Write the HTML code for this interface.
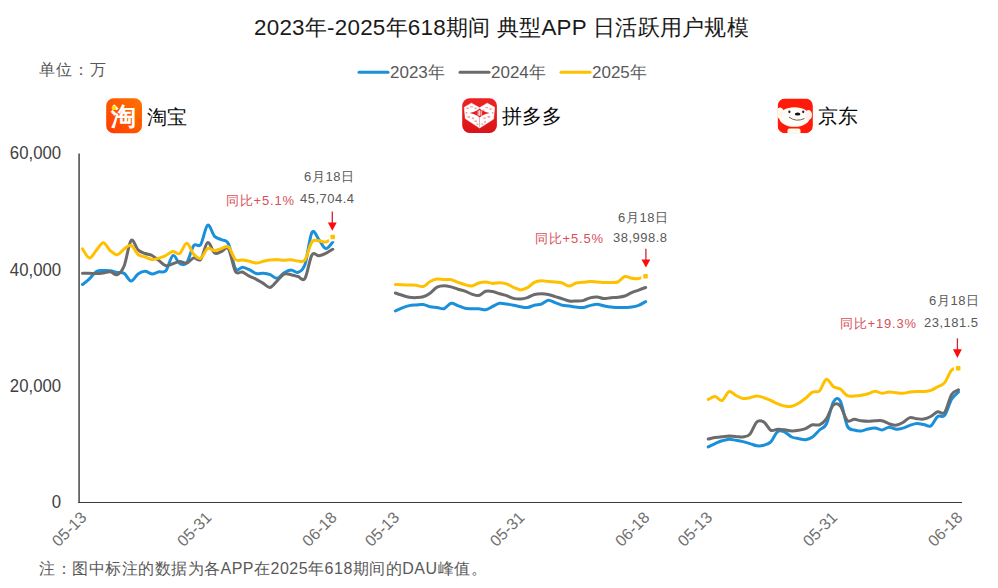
<!DOCTYPE html>
<html><head><meta charset="utf-8">
<style>
html,body{margin:0;padding:0;background:#fff;}
body{width:998px;height:588px;overflow:hidden;position:relative;font-family:"Liberation Sans",sans-serif;}
.t{position:absolute;white-space:nowrap;line-height:1;}
svg{position:absolute;left:0;top:0;}
.ylab{right:936.5px;font-size:18px;color:#404040;transform:scaleX(0.93);transform-origin:100% 50%;}
</style></head><body>
<div class="t" style="left:254px;top:17px;font-size:22.4px;letter-spacing:0.25px;color:#1a1a1a;">2023年-2025年618期间 典型APP 日活跃用户规模</div>
<div class="t" style="left:39px;top:62px;font-size:16px;letter-spacing:1px;color:#595959;">单位：万</div>
<div class="t" style="left:390px;top:63.5px;font-size:17px;color:#595959;">2023年</div>
<div class="t" style="left:491px;top:63.5px;font-size:17px;color:#595959;">2024年</div>
<div class="t" style="left:592px;top:63.5px;font-size:17px;color:#595959;">2025年</div>
<div class="t" style="left:147px;top:106.5px;font-size:20px;color:#0a0a0a;">淘宝</div>
<div class="t" style="left:502px;top:105.5px;font-size:20px;color:#0a0a0a;">拼多多</div>
<div class="t" style="left:817.5px;top:105.5px;font-size:20px;color:#0a0a0a;">京东</div>
<div class="t ylab" style="top:144px;">60,000</div>
<div class="t ylab" style="top:261px;">40,000</div>
<div class="t ylab" style="top:377px;">20,000</div>
<div class="t ylab" style="top:493px;">0</div>
<div class="t" style="left:39px;top:561px;font-size:16px;letter-spacing:0.5px;color:#595959;">注：图中标注的数据为各APP在2025年618期间的DAU峰值。</div>
<!-- annotations -->
<div class="t" style="left:304px;top:170px;font-size:13px;letter-spacing:0.6px;color:#595959;">6月18日</div>
<div class="t" style="left:300px;top:192px;font-size:13px;color:#595959;letter-spacing:0.5px;">45,704.4</div>
<div class="t" style="left:226px;top:194px;font-size:13px;letter-spacing:0.8px;color:#d8505a;">同比+5.1%</div>
<div class="t" style="left:618px;top:211px;font-size:13px;letter-spacing:0.6px;color:#595959;">6月18日</div>
<div class="t" style="left:613px;top:231px;font-size:13px;color:#595959;letter-spacing:0.5px;">38,998.8</div>
<div class="t" style="left:535px;top:232px;font-size:13px;letter-spacing:0.8px;color:#d8505a;">同比+5.5%</div>
<div class="t" style="left:929px;top:294px;font-size:13px;letter-spacing:0.6px;color:#595959;">6月18日</div>
<div class="t" style="left:924px;top:316px;font-size:13px;color:#595959;letter-spacing:0.5px;">23,181.5</div>
<div class="t" style="left:840px;top:317px;font-size:13px;letter-spacing:0.8px;color:#d8505a;">同比+19.3%</div>
<svg width="998" height="588" viewBox="0 0 998 588">
<g stroke-linecap="round">
<line x1="359" y1="72.3" x2="388" y2="72.3" stroke="#1B90DA" stroke-width="3"/>
<line x1="460" y1="72.3" x2="489" y2="72.3" stroke="#6B6B6B" stroke-width="3"/>
<line x1="561" y1="72.3" x2="590" y2="72.3" stroke="#FFC000" stroke-width="3"/>
</g>
<line x1="79.1" y1="153.5" x2="79.1" y2="502.5" stroke="#646464" stroke-width="1.8"/>
<line x1="78.2" y1="502.5" x2="962" y2="502.5" stroke="#3a3a3a" stroke-width="1.2"/>
<g fill="none" stroke-width="3" stroke-linecap="round" stroke-linejoin="round">
<path d="M82.5 284.5 C83.6 283.6 87.1 281.1 89.4 278.9 C91.7 276.7 94.1 272.9 96.4 271.5 C98.7 270.1 101.0 270.6 103.3 270.5 C105.7 270.4 108.0 270.5 110.3 270.8 C112.6 271.1 114.9 272.1 117.2 272.5 C119.6 272.9 121.9 272.0 124.2 273.4 C126.5 274.8 128.8 280.9 131.1 281.0 C133.5 281.1 135.8 275.5 138.1 273.9 C140.4 272.3 142.7 271.3 145.1 271.3 C147.4 271.3 149.7 273.8 152.0 273.9 C154.3 274.0 156.6 272.3 159.0 271.8 C161.3 271.3 163.6 273.5 165.9 270.8 C168.2 268.1 170.5 256.7 172.9 255.5 C175.2 254.3 177.5 262.5 179.8 263.7 C182.1 264.9 184.5 265.6 186.8 262.6 C189.1 259.6 191.4 248.6 193.7 245.6 C196.0 242.6 198.4 248.0 200.7 244.6 C203.0 241.2 205.3 226.6 207.6 225.2 C209.9 223.8 212.3 234.0 214.6 236.4 C216.9 238.8 219.2 238.4 221.5 239.7 C223.8 241.0 226.2 239.2 228.5 244.0 C230.8 248.8 233.1 264.6 235.4 268.5 C237.8 272.4 240.1 267.1 242.4 267.3 C244.7 267.5 247.0 268.6 249.3 269.6 C251.7 270.6 254.0 272.9 256.3 273.5 C258.6 274.1 260.9 273.0 263.2 273.2 C265.6 273.4 267.9 273.8 270.2 274.7 C272.5 275.6 274.8 278.6 277.2 278.3 C279.5 278.0 281.8 274.1 284.1 272.7 C286.4 271.3 288.7 270.1 291.1 270.0 C293.4 269.9 295.7 273.3 298.0 272.4 C300.3 271.5 302.6 271.1 305.0 264.5 C307.3 257.9 309.6 236.7 311.9 232.5 C314.2 228.3 316.6 236.9 318.9 239.6 C321.2 242.3 323.5 248.2 325.8 248.6 C328.1 249.0 331.6 243.1 332.8 242.0" stroke="#1B90DA"/>
<path d="M82.5 273.3 C83.6 273.3 87.1 273.2 89.4 273.3 C91.7 273.4 94.1 273.7 96.4 273.6 C98.7 273.6 101.0 273.3 103.3 273.0 C105.7 272.7 108.0 271.4 110.3 271.7 C112.6 272.0 114.9 275.7 117.2 274.7 C119.6 273.7 121.9 271.4 124.2 265.7 C126.5 260.0 128.8 243.1 131.1 240.5 C133.5 237.9 135.8 247.7 138.1 249.9 C140.4 252.1 142.7 252.6 145.1 253.5 C147.4 254.4 149.7 254.3 152.0 255.5 C154.3 256.7 156.6 258.9 159.0 260.6 C161.3 262.3 163.6 265.2 165.9 265.7 C168.2 266.2 170.5 264.4 172.9 263.7 C175.2 263.0 177.5 261.7 179.8 261.6 C182.1 261.5 184.5 263.7 186.8 263.1 C189.1 262.5 191.4 258.5 193.7 257.9 C196.0 257.3 198.4 262.0 200.7 259.4 C203.0 256.8 205.3 243.6 207.6 242.5 C209.9 241.4 212.3 251.5 214.6 253.0 C216.9 254.5 219.2 252.2 221.5 251.5 C223.8 250.8 226.2 245.5 228.5 248.8 C230.8 252.1 233.1 267.5 235.4 271.4 C237.8 275.3 240.1 271.2 242.4 272.0 C244.7 272.8 247.0 275.0 249.3 276.2 C251.7 277.4 254.0 278.1 256.3 279.3 C258.6 280.5 260.9 282.0 263.2 283.4 C265.6 284.8 267.9 287.8 270.2 287.4 C272.5 287.0 274.8 283.0 277.2 280.8 C279.5 278.6 281.8 275.2 284.1 274.2 C286.4 273.2 288.7 274.3 291.1 274.7 C293.4 275.1 295.7 275.9 298.0 276.5 C300.3 277.1 302.6 281.9 305.0 278.3 C307.3 274.7 309.6 258.9 311.9 255.1 C314.2 251.3 316.6 256.0 318.9 255.7 C321.2 255.4 323.5 254.4 325.8 253.3 C328.1 252.2 331.6 249.9 332.8 249.2" stroke="#6B6B6B"/>
<path d="M82.5 248.8 C83.6 250.3 87.1 257.8 89.4 258.0 C91.7 258.2 94.1 252.9 96.4 250.3 C98.7 247.8 101.0 242.6 103.3 242.7 C105.7 242.8 108.0 248.8 110.3 250.8 C112.6 252.8 114.9 255.0 117.2 254.7 C119.6 254.4 121.9 250.5 124.2 248.9 C126.5 247.3 128.8 244.4 131.1 245.3 C133.5 246.2 135.8 252.6 138.1 254.5 C140.4 256.4 142.7 256.1 145.1 257.0 C147.4 257.9 149.7 259.4 152.0 259.6 C154.3 259.8 156.6 258.8 159.0 258.1 C161.3 257.4 163.6 256.6 165.9 255.5 C168.2 254.4 170.5 251.9 172.9 251.6 C175.2 251.3 177.5 254.9 179.8 253.5 C182.1 252.1 184.5 243.1 186.8 243.2 C189.1 243.3 191.4 251.8 193.7 254.3 C196.0 256.8 198.4 259.3 200.7 258.3 C203.0 257.3 205.3 249.8 207.6 248.5 C209.9 247.2 212.3 250.7 214.6 250.7 C216.9 250.7 219.2 249.1 221.5 248.5 C223.8 247.9 226.2 245.2 228.5 247.0 C230.8 248.8 233.1 257.3 235.4 259.5 C237.8 261.7 240.1 259.8 242.4 260.1 C244.7 260.4 247.0 260.8 249.3 261.3 C251.7 261.8 254.0 263.0 256.3 263.0 C258.6 263.0 260.9 261.9 263.2 261.4 C265.6 260.9 267.9 260.2 270.2 259.9 C272.5 259.6 274.8 259.6 277.2 259.6 C279.5 259.7 281.8 260.2 284.1 260.2 C286.4 260.2 288.7 259.5 291.1 259.7 C293.4 259.9 295.7 261.1 298.0 261.1 C300.3 261.1 302.6 263.0 305.0 259.8 C307.3 256.6 309.6 245.2 311.9 242.0 C314.2 238.8 316.6 240.8 318.9 240.8 C321.2 240.8 323.5 242.6 325.8 242.0 C328.1 241.4 331.6 237.8 332.8 237.0" stroke="#FFC000"/>
<path d="M395.4 311.0 C396.5 310.5 400.0 308.8 402.3 307.9 C404.6 307.0 406.9 306.1 409.3 305.6 C411.6 305.1 413.9 305.1 416.2 304.9 C418.5 304.7 420.8 304.2 423.2 304.5 C425.5 304.8 427.8 306.3 430.1 306.8 C432.4 307.3 434.7 307.2 437.1 307.5 C439.4 307.8 441.7 309.4 444.0 308.7 C446.3 308.0 448.7 303.8 451.0 303.3 C453.3 302.8 455.6 304.8 457.9 305.6 C460.2 306.4 462.6 307.8 464.9 308.3 C467.2 308.8 469.5 308.6 471.8 308.7 C474.1 308.8 476.5 308.5 478.8 308.7 C481.1 308.9 483.4 310.2 485.7 309.8 C488.1 309.4 490.4 307.5 492.7 306.4 C495.0 305.3 497.3 303.7 499.6 303.3 C502.0 302.9 504.3 303.8 506.6 304.1 C508.9 304.4 511.2 304.8 513.5 305.2 C515.9 305.6 518.2 306.4 520.5 306.8 C522.8 307.2 525.1 307.8 527.5 307.5 C529.8 307.2 532.1 305.8 534.4 305.2 C536.7 304.6 539.0 304.9 541.4 304.1 C543.7 303.3 546.0 300.5 548.3 300.3 C550.6 300.1 552.9 301.9 555.3 302.7 C557.6 303.5 559.9 304.6 562.2 305.2 C564.5 305.8 566.9 305.7 569.2 306.0 C571.5 306.3 573.8 306.9 576.1 307.1 C578.4 307.4 580.8 307.8 583.1 307.5 C585.4 307.2 587.7 306.1 590.0 305.6 C592.3 305.1 594.7 304.3 597.0 304.3 C599.3 304.3 601.6 305.3 603.9 305.8 C606.3 306.3 608.6 306.8 610.9 307.1 C613.2 307.4 615.5 307.4 617.8 307.5 C620.2 307.6 622.5 307.6 624.8 307.5 C627.1 307.4 629.4 307.5 631.7 307.1 C634.1 306.8 636.4 306.3 638.7 305.4 C641.0 304.5 644.5 302.2 645.6 301.6" stroke="#1B90DA"/>
<path d="M395.4 293.0 C396.5 293.4 400.0 294.6 402.3 295.3 C404.6 296.0 406.9 296.8 409.3 297.2 C411.6 297.6 413.9 297.7 416.2 297.6 C418.5 297.5 420.8 297.5 423.2 296.8 C425.5 296.1 427.8 294.8 430.1 293.2 C432.4 291.6 434.7 288.4 437.1 287.1 C439.4 285.9 441.7 285.7 444.0 285.7 C446.3 285.7 448.7 286.3 451.0 286.9 C453.3 287.5 455.6 288.5 457.9 289.2 C460.2 289.9 462.6 290.3 464.9 291.1 C467.2 291.9 469.5 293.4 471.8 294.1 C474.1 294.8 476.5 296.0 478.8 295.5 C481.1 295.0 483.4 292.0 485.7 291.3 C488.1 290.6 490.4 291.1 492.7 291.5 C495.0 291.9 497.3 293.1 499.6 293.8 C502.0 294.5 504.3 294.9 506.6 295.7 C508.9 296.5 511.2 297.8 513.5 298.4 C515.9 299.0 518.2 299.2 520.5 299.1 C522.8 299.0 525.1 298.4 527.5 297.6 C529.8 296.8 532.1 295.1 534.4 294.5 C536.7 293.9 539.0 293.8 541.4 293.8 C543.7 293.8 546.0 294.0 548.3 294.5 C550.6 295.0 552.9 295.9 555.3 296.6 C557.6 297.3 559.9 298.0 562.2 298.7 C564.5 299.4 566.9 300.6 569.2 301.0 C571.5 301.4 573.8 301.1 576.1 301.0 C578.4 300.9 580.8 301.1 583.1 300.6 C585.4 300.1 587.7 298.5 590.0 297.9 C592.3 297.3 594.7 296.9 597.0 297.0 C599.3 297.1 601.6 298.5 603.9 298.6 C606.3 298.7 608.6 297.9 610.9 297.7 C613.2 297.5 615.5 297.6 617.8 297.3 C620.2 297.0 622.5 296.8 624.8 296.0 C627.1 295.2 629.4 293.6 631.7 292.6 C634.1 291.6 636.4 291.0 638.7 290.1 C641.0 289.2 644.5 287.9 645.6 287.5" stroke="#6B6B6B"/>
<path d="M395.4 284.6 C396.5 284.6 400.0 284.7 402.3 284.8 C404.6 284.9 406.9 284.9 409.3 285.0 C411.6 285.1 413.9 285.1 416.2 285.3 C418.5 285.6 420.8 287.1 423.2 286.5 C425.5 285.9 427.8 282.8 430.1 281.5 C432.4 280.2 434.7 279.3 437.1 279.0 C439.4 278.7 441.7 279.5 444.0 279.6 C446.3 279.7 448.7 279.2 451.0 279.6 C453.3 280.1 455.6 281.5 457.9 282.3 C460.2 283.1 462.6 284.0 464.9 284.6 C467.2 285.2 469.5 286.2 471.8 285.9 C474.1 285.6 476.5 283.7 478.8 283.0 C481.1 282.3 483.4 281.8 485.7 281.9 C488.1 282.0 490.4 283.3 492.7 283.4 C495.0 283.5 497.3 282.6 499.6 282.7 C502.0 282.8 504.3 283.0 506.6 283.8 C508.9 284.6 511.2 286.3 513.5 287.3 C515.9 288.3 518.2 289.8 520.5 289.9 C522.8 289.9 525.1 288.9 527.5 287.6 C529.8 286.3 532.1 283.5 534.4 282.3 C536.7 281.1 539.0 280.8 541.4 280.7 C543.7 280.6 546.0 281.3 548.3 281.5 C550.6 281.7 552.9 281.9 555.3 282.1 C557.6 282.4 559.9 282.3 562.2 283.0 C564.5 283.7 566.9 286.1 569.2 286.1 C571.5 286.1 573.8 283.6 576.1 283.0 C578.4 282.4 580.8 282.6 583.1 282.3 C585.4 282.1 587.7 281.6 590.0 281.5 C592.3 281.4 594.7 281.8 597.0 281.9 C599.3 282.0 601.6 282.3 603.9 282.4 C606.3 282.5 608.6 282.5 610.9 282.4 C613.2 282.3 615.5 283.0 617.8 282.0 C620.2 281.0 622.5 277.1 624.8 276.5 C627.1 275.9 629.4 277.8 631.7 278.2 C634.1 278.6 636.4 278.9 638.7 278.6 C641.0 278.3 644.5 276.7 645.6 276.3" stroke="#FFC000"/>
<path d="M708.2 446.9 C709.4 446.3 712.9 444.6 715.2 443.6 C717.5 442.6 719.8 441.5 722.1 440.8 C724.4 440.1 726.8 439.3 729.1 439.2 C731.4 439.1 733.7 439.9 736.0 440.3 C738.4 440.7 740.7 441.1 743.0 441.6 C745.3 442.2 747.6 442.9 749.9 443.6 C752.3 444.3 754.6 445.5 756.9 445.8 C759.2 446.1 761.5 445.9 763.8 445.2 C766.2 444.5 768.5 444.2 770.8 441.9 C773.1 439.6 775.4 433.0 777.8 431.4 C780.1 429.8 782.4 431.1 784.7 432.0 C787.0 432.9 789.3 435.9 791.7 437.0 C794.0 438.1 796.3 438.2 798.6 438.6 C800.9 439.1 803.2 440.0 805.6 439.7 C807.9 439.4 810.2 438.6 812.5 437.0 C814.8 435.4 817.2 432.2 819.5 430.0 C821.8 427.8 824.1 428.7 826.4 424.0 C828.7 419.3 831.1 405.8 833.4 402.0 C835.7 398.2 838.0 397.0 840.3 401.0 C842.6 405.0 845.0 421.2 847.3 426.0 C849.6 430.8 851.9 429.2 854.2 430.0 C856.5 430.8 858.9 431.2 861.2 431.0 C863.5 430.8 865.8 429.5 868.1 429.0 C870.5 428.5 872.8 427.8 875.1 428.0 C877.4 428.2 879.7 430.1 882.0 430.0 C884.4 429.9 886.7 427.3 889.0 427.2 C891.3 427.1 893.6 429.0 895.9 429.2 C898.3 429.4 900.6 428.8 902.9 428.1 C905.2 427.5 907.5 426.1 909.9 425.3 C912.2 424.6 914.5 423.7 916.8 423.6 C919.1 423.5 921.4 424.1 923.8 424.5 C926.1 424.9 928.4 427.3 930.7 426.0 C933.0 424.7 935.3 418.3 937.7 416.5 C940.0 414.7 942.3 418.3 944.6 415.4 C946.9 412.5 949.3 403.2 951.6 399.3 C953.9 395.4 957.4 393.3 958.5 392.1" stroke="#1B90DA"/>
<path d="M708.2 439.0 C709.4 438.8 712.9 437.9 715.2 437.5 C717.5 437.1 719.8 436.9 722.1 436.7 C724.4 436.5 726.8 436.2 729.1 436.1 C731.4 436.1 733.7 436.2 736.0 436.4 C738.4 436.5 740.7 437.4 743.0 437.0 C745.3 436.6 747.6 436.7 749.9 434.2 C752.3 431.7 754.6 423.8 756.9 421.8 C759.2 419.8 761.5 420.6 763.8 422.0 C766.2 423.4 768.5 429.1 770.8 430.3 C773.1 431.5 775.4 429.3 777.8 429.2 C780.1 429.1 782.4 429.5 784.7 429.8 C787.0 430.1 789.3 430.8 791.7 430.9 C794.0 431.0 796.3 430.7 798.6 430.3 C800.9 429.9 803.2 429.6 805.6 428.7 C807.9 427.8 810.2 425.4 812.5 424.8 C814.8 424.2 817.2 425.8 819.5 424.8 C821.8 423.8 824.1 422.1 826.4 418.8 C828.7 415.5 831.1 407.1 833.4 405.0 C835.7 402.9 838.0 403.4 840.3 406.0 C842.6 408.6 845.0 418.4 847.3 420.6 C849.6 422.8 851.9 419.3 854.2 419.3 C856.5 419.3 858.9 420.5 861.2 420.8 C863.5 421.1 865.8 421.3 868.1 421.3 C870.5 421.3 872.8 420.9 875.1 420.8 C877.4 420.7 879.7 420.3 882.0 420.8 C884.4 421.3 886.7 422.9 889.0 423.7 C891.3 424.4 893.6 425.5 895.9 425.3 C898.3 425.1 900.6 423.8 902.9 422.5 C905.2 421.2 907.5 418.2 909.9 417.6 C912.2 417.0 914.5 418.5 916.8 418.7 C919.1 418.9 921.4 419.4 923.8 419.0 C926.1 418.6 928.4 417.7 930.7 416.5 C933.0 415.3 935.3 412.5 937.7 411.8 C940.0 411.1 942.3 415.3 944.6 412.4 C946.9 409.5 949.3 398.3 951.6 394.5 C953.9 390.7 957.4 390.6 958.5 389.8" stroke="#6B6B6B"/>
<path d="M708.2 399.4 C709.4 398.9 712.9 396.4 715.2 396.6 C717.5 396.8 719.8 401.3 722.1 400.5 C724.4 399.7 726.8 392.4 729.1 391.6 C731.4 390.8 733.7 394.4 736.0 395.5 C738.4 396.6 740.7 398.1 743.0 398.5 C745.3 398.9 747.6 398.1 749.9 397.7 C752.3 397.3 754.6 396.0 756.9 396.0 C759.2 396.0 761.5 396.9 763.8 397.7 C766.2 398.4 768.5 399.5 770.8 400.5 C773.1 401.5 775.4 402.9 777.8 403.8 C780.1 404.7 782.4 405.6 784.7 406.0 C787.0 406.4 789.3 406.8 791.7 406.3 C794.0 405.8 796.3 404.5 798.6 403.2 C800.9 401.9 803.2 400.1 805.6 398.3 C807.9 396.5 810.2 393.4 812.5 392.2 C814.8 390.9 817.2 392.9 819.5 390.8 C821.8 388.7 824.1 380.0 826.4 379.3 C828.7 378.6 831.1 385.1 833.4 386.7 C835.7 388.3 838.0 387.5 840.3 389.0 C842.6 390.5 845.0 394.4 847.3 395.6 C849.6 396.8 851.9 396.1 854.2 396.0 C856.5 395.9 858.9 395.7 861.2 395.3 C863.5 394.9 865.8 394.5 868.1 393.8 C870.5 393.1 872.8 391.3 875.1 391.2 C877.4 391.1 879.7 393.2 882.0 393.3 C884.4 393.4 886.7 392.1 889.0 392.0 C891.3 391.9 893.6 392.5 895.9 392.7 C898.3 392.9 900.6 393.3 902.9 393.2 C905.2 393.1 907.5 392.4 909.9 392.1 C912.2 391.8 914.5 391.7 916.8 391.6 C919.1 391.5 921.4 391.7 923.8 391.5 C926.1 391.3 928.4 391.2 930.7 390.4 C933.0 389.6 935.3 388.1 937.7 386.8 C940.0 385.5 942.3 385.4 944.6 382.6 C946.9 379.8 949.3 372.5 951.6 370.1 C953.9 367.7 957.4 368.6 958.5 368.3" stroke="#FFC000"/>
</g>
<g fill="#FFC000" stroke="#fff" stroke-width="2">
<rect x="329.45" y="233.75" width="6.5" height="6.5" rx="1.5"/>
<rect x="642.25" y="273.05" width="6.5" height="6.5" rx="1.5"/>
<rect x="954.95" y="365.05" width="6.5" height="6.5" rx="1.5"/>
</g>
<g stroke="#C42A3A" stroke-width="1.3" fill="#FF0A0A">
<line x1="332.3" y1="211.5" x2="332.3" y2="224"/>
<path d="M327.9 222.5 L336.7 222.5 L332.3 230.8Z" stroke="none"/>
<line x1="645.9" y1="248.8" x2="645.9" y2="261"/>
<path d="M641.5 259.5 L650.3 259.5 L645.9 267.5Z" stroke="none"/>
<line x1="957.4" y1="338.3" x2="957.4" y2="351"/>
<path d="M953 349.3 L961.8 349.3 L957.4 358Z" stroke="none"/>
</g>
<g font-family="Liberation Sans" font-size="16" fill="#707070" text-anchor="end">
<text transform="translate(87.5 518.5) rotate(-45)" x="0" y="0">05-13</text>
<text transform="translate(212.6 518.5) rotate(-45)" x="0" y="0">05-31</text>
<text transform="translate(337.8 518.5) rotate(-45)" x="0" y="0">06-18</text>
<text transform="translate(400.4 518.5) rotate(-45)" x="0" y="0">05-13</text>
<text transform="translate(525.5 518.5) rotate(-45)" x="0" y="0">05-31</text>
<text transform="translate(650.6 518.5) rotate(-45)" x="0" y="0">06-18</text>
<text transform="translate(713.2 518.5) rotate(-45)" x="0" y="0">05-13</text>
<text transform="translate(838.4 518.5) rotate(-45)" x="0" y="0">05-31</text>
<text transform="translate(963.5 518.5) rotate(-45)" x="0" y="0">06-18</text>
</g>
</svg>
<svg width="998" height="588" viewBox="0 0 998 588" style="position:absolute;left:0;top:0">
<defs>
<linearGradient id="tb" x1="0" y1="1" x2="1" y2="0">
<stop offset="0" stop-color="#FF3A00"/><stop offset="1" stop-color="#FF7400"/>
</linearGradient>
<linearGradient id="pd" x1="0" y1="0" x2="0" y2="1">
<stop offset="0" stop-color="#EE2222"/><stop offset="1" stop-color="#D9141A"/>
</linearGradient>
<clipPath id="jdc"><rect x="777.6" y="98.5" width="35.3" height="34.8" rx="7.5"/></clipPath>
</defs>
<rect x="106.2" y="98.2" width="35.8" height="35" rx="7.5" fill="url(#tb)"/>
<text x="123.9" y="125.2" font-size="25" font-weight="bold" fill="#fff" text-anchor="middle" font-family="Liberation Sans">淘</text>
<circle cx="113.8" cy="108" r="2.2" fill="#FFE000"/>
<rect x="462.2" y="98.3" width="34.7" height="34.7" rx="7.5" fill="url(#pd)"/>
<path d="M464.3 107.3 L471.4 103.2 L479.6 107.8 L487.2 103.2 L494.6 107.3 L493.6 119 L479.6 128 L465.3 118.6Z" fill="#fff" stroke="#fff" stroke-width="0.6" stroke-linejoin="round"/>
<path d="M469.5 113 Q476 111.8 479.6 108.4 Q483.2 111.8 489.7 113 Q483.2 114.2 479.6 117.6 Q476 114.2 469.5 113Z" fill="#E41E25"/>
<g fill="#fff"><rect x="477.7" y="110.6" width="0.9" height="5"/><rect x="479.2" y="110.2" width="0.9" height="5.6"/><rect x="480.7" y="110.6" width="0.9" height="5"/></g>
<g fill="#E8454A" opacity="0.55">
<rect x="466.5" y="107.5" width="2.2" height="1.4"/><rect x="470" y="106.2" width="3" height="1.2"/><rect x="474.5" y="107.6" width="2" height="1.5"/>
<rect x="485.5" y="107" width="2.4" height="1.3"/><rect x="489.5" y="108.2" width="2.2" height="1.5"/><rect x="483" y="109.6" width="1.5" height="1.2"/>
<rect x="465.8" y="112" width="1.6" height="1.6"/><rect x="492" y="112" width="1.5" height="1.6"/>
<rect x="467.5" y="116.2" width="2.5" height="1.5"/><rect x="472" y="117.5" width="2" height="1.6"/><rect x="474.5" y="120.5" width="2.4" height="1.5"/>
<rect x="483.5" y="117.4" width="2.2" height="1.5"/><rect x="487.5" y="116" width="2.6" height="1.6"/><rect x="484" y="121.2" width="2" height="1.5"/>
<rect x="476.5" y="123.5" width="1.8" height="1.4"/><rect x="481.5" y="123.6" width="1.8" height="1.4"/>
</g>
<path d="M479.6 117.3 L479.6 127" stroke="#E8454A" stroke-width="0.7" opacity="0.7"/>
<g clip-path="url(#jdc)">
<rect x="777.6" y="98.5" width="35.3" height="34.8" fill="#FF1A0A"/>
<ellipse cx="794.5" cy="117" rx="15.5" ry="9.8" fill="#FFFDF8"/>
<ellipse cx="780" cy="113" rx="4" ry="5.5" fill="#FFF8EC"/>
<ellipse cx="808.5" cy="115" rx="3.5" ry="5" fill="#FFF0EC"/>
<rect x="787.5" y="128.5" width="13" height="6" rx="2" fill="#FFFBEA"/>
<ellipse cx="789.4" cy="111.8" rx="1.1" ry="1.4" fill="#222"/>
<ellipse cx="803.2" cy="111.8" rx="1.1" ry="1.4" fill="#222"/>
<ellipse cx="797.6" cy="114" rx="2.8" ry="1.5" fill="#111"/>
<path d="M789 117 Q796 122.5 804.5 118.5" stroke="#6a4a40" stroke-width="0.9" fill="none"/>
</g>
</svg>

</body></html>
